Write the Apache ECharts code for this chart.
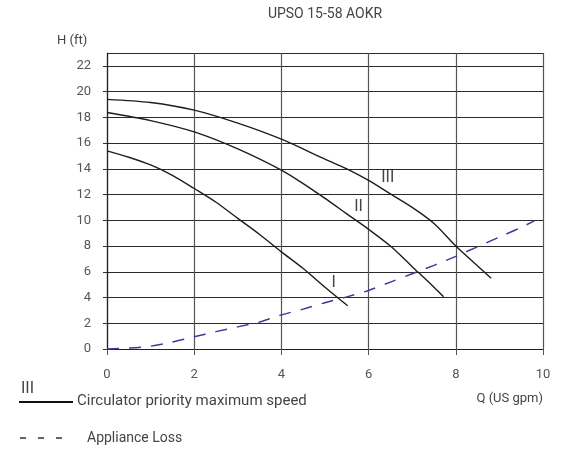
<!DOCTYPE html>
<html>
<head>
<meta charset="utf-8">
<script src="https://cdn.jsdelivr.net/npm/echarts@6/dist/echarts.min.js"></script>
<style>html,body{margin:0;padding:0;background:#fff}#c{width:561px;height:452px}</style>
</head>
<body>
<div id="c"></div>
<script>
var xTicks = [0, 2, 4, 6, 8, 10];
var yTicks = [0, 2, 4, 6, 8, 10, 12, 14, 16, 18, 20, 22];

var qI = [0, 0.5, 1, 1.5, 2, 2.5, 3, 3.5, 4, 4.5, 5, 5.52];
var hI = [15.4, 14.9, 14.3, 13.5, 12.47, 11.4, 10.15, 8.9, 7.55, 6.25, 4.8, 3.36];

var qII = [0, 1, 2, 3, 4, 4.5, 5, 5.5, 6, 6.5, 7, 7.5, 7.72];
var hII = [18.38, 17.75, 16.87, 15.55, 13.9, 12.85, 11.7, 10.5, 9.3, 8.0, 6.4, 4.8, 4.06];

var qIII = [0, 1, 2, 3, 4, 5, 5.5, 6, 6.5, 7, 7.5, 8, 8.5, 8.81];
var hIII = [19.4, 19.15, 18.56, 17.55, 16.3, 14.75, 14.0, 13.1, 12.05, 11.0, 9.75, 8.0, 6.45, 5.49];

var qLoss = [0, 0.5, 1, 1.5, 2, 2.5, 3, 3.5, 4, 4.5, 5, 5.5, 6, 6.5, 7, 7.5, 8, 8.5, 9, 9.5, 9.8];
var hLoss = [0, 0.07, 0.22, 0.55, 0.95, 1.35, 1.72, 2.1, 2.65, 3.1, 3.6, 4.05, 4.55, 5.2, 5.85, 6.5, 7.2, 7.95, 8.7, 9.45, 9.96];

var curveLabels = ['I', 'II', 'III'];
var labelQ = [5.2, 5.77, 6.44];
var labelH = [5.16, 11.0, 13.28];

function pairs(q, h) { return q.map(function (v, i) { return [v, h[i]]; }); }

var FONT = 'Roboto';
var chart = echarts.init(document.getElementById('c'));

function curve(q, h, idx) {
  return {
    type: 'line', data: pairs(q, h), smooth: 0.3, symbol: 'none',
    lineStyle: { color: '#1e1e1e', width: 1.4 },
    markPoint: {
      symbol: 'circle', symbolSize: 0, silent: true,
      label: { show: true, formatter: curveLabels[idx], color: '#444', fontFamily: FONT, fontSize: 16, position: 'inside' },
      data: [{ coord: [labelQ[idx], labelH[idx]] }]
    }
  };
}

chart.setOption({
  animation: false,
  grid: { left: 107, right: 18, top: 53, bottom: 103 },
  xAxis: {
    type: 'value', min: 0, max: 10, interval: 2,
    axisLine: { show: true, onZero: false, lineStyle: { color: '#222', width: 1.2 } },
    axisTick: { show: true, length: 6, lineStyle: { color: '#555' } },
    axisLabel: { margin: 19, color: '#555', fontFamily: FONT, fontSize: 13,
      formatter: function (v) { return xTicks.indexOf(v) >= 0 ? String(v) : ''; } },
    splitLine: { show: true, lineStyle: { color: '#555', width: 1.2 } }
  },
  yAxis: {
    type: 'value', min: 0, max: 23, interval: 2,
    axisLine: { show: true, lineStyle: { color: '#222', width: 1.2 } },
    axisTick: { show: true, length: 4, lineStyle: { color: '#333' } },
    axisLabel: { margin: 16, color: '#555', fontFamily: FONT, fontSize: 13, showMaxLabel: false,
      formatter: function (v) { return yTicks.indexOf(v) >= 0 ? String(v) : ''; } },
    splitLine: { show: true, lineStyle: { color: '#2a2a2a', width: 1.2 } }
  },
  graphic: [
    { type: 'text', x: 325, y: 14, style: { text: 'UPSO 15-58 AOKR', fill: '#444', font: '14px ' + FONT, textAlign: 'center', textVerticalAlign: 'middle' } },
    { type: 'text', x: 57, y: 41, style: { text: 'H (ft)', fill: '#444', font: '13px ' + FONT, textVerticalAlign: 'middle' } },
    { type: 'text', x: 543, y: 399, style: { text: 'Q (US gpm)', fill: '#444', font: '13px ' + FONT, textAlign: 'right', textVerticalAlign: 'middle' } },
    { type: 'text', x: 21, y: 389, style: { text: 'III', fill: '#444', font: '16px ' + FONT, textVerticalAlign: 'middle' } },
    { type: 'line', shape: { x1: 19, y1: 402, x2: 73, y2: 402 }, style: { stroke: '#111', lineWidth: 2 } },
    { type: 'text', x: 77, y: 401, style: { text: 'Circulator priority maximum speed', fill: '#444', font: '15px ' + FONT, textVerticalAlign: 'middle' } },
    { type: 'line', shape: { x1: 20, y1: 438, x2: 62, y2: 438 }, style: { stroke: '#333', lineWidth: 1.3, lineDash: [6, 12] } },
    { type: 'text', x: 87, y: 438, style: { text: 'Appliance Loss', fill: '#444', font: '14px ' + FONT, textVerticalAlign: 'middle' } }
  ],
  series: [
    curve(qI, hI, 0),
    curve(qII, hII, 1),
    curve(qIII, hIII, 2),
    {
      type: 'line', data: pairs(qLoss, hLoss), smooth: 0.3, symbol: 'none',
      lineStyle: { color: '#3a3a9e', width: 1.5, type: [12, 10] }
    }
  ]
});
</script>
</body>
</html>
